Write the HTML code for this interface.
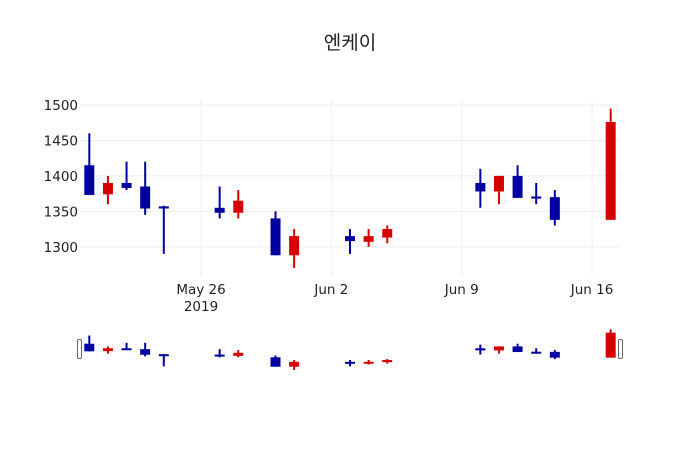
<!DOCTYPE html>
<html><head><meta charset="utf-8"><style>
body{margin:0;background:#fff;}
svg text{font-family:"DejaVu Sans","Noto Sans CJK KR",sans-serif;}
</style></head><body>
<svg id="chart" width="700" height="450" xmlns="http://www.w3.org/2000/svg">
<rect width="700" height="450" fill="#fff"/>
<text x="350" y="49" text-anchor="middle" font-size="19" fill="#222" style="font-family:'Noto Sans CJK KR',sans-serif">엔케이</text>
<g id="grid"></g><g id="candles"></g><g id="slider"></g><g id="axes"></g>
</svg>
<script>
const dates=["2019-05-20","2019-05-21","2019-05-22","2019-05-23","2019-05-24","2019-05-27","2019-05-28","2019-05-30","2019-05-31","2019-06-03","2019-06-04","2019-06-05","2019-06-10","2019-06-11","2019-06-12","2019-06-13","2019-06-14","2019-06-17"];
const openV=[1415,1374,1390,1385,1357,1355,1348,1340,1288,1315,1307,1313,1390,1378,1400,1371,1370,1338];
const highV=[1460,1400,1420,1420,1358,1385,1380,1350,1325,1325,1325,1330,1410,1400,1415,1390,1380,1495];
const lowV=[1373,1360,1380,1345,1290,1340,1340,1288,1270,1290,1300,1305,1355,1360,1369,1360,1330,1338];
const closeV=[1373,1390,1383,1354,1354,1348,1365,1288,1315,1308,1315,1325,1378,1400,1369,1368,1338,1476];
const yTicks=[1300,1350,1400,1450,1500];
const xTickDates=["2019-05-26","2019-06-02","2019-06-09","2019-06-16"];
const xTickLabels=["May 26","Jun 2","Jun 9","Jun 16"];

const NS="http://www.w3.org/2000/svg";
const t0=Date.parse("2019-05-19T12:00:00Z"), t1=Date.parse("2019-06-17T12:00:00Z");
const X0=80,X1=620;
const x=d=>X0+(Date.parse(d+"T00:00:00Z")-t0)/(t1-t0)*(X1-X0);
const lo=Math.min(...lowV),hi=Math.max(...highV),pad=(hi-lo)*0.05;
const yMin=lo-pad,yMax=hi+pad;
const y=v=>100.6+(yMax-v)/(yMax-yMin)*(276-100.6);
const ys=v=>327.2+(yMax-v)/(yMax-yMin)*(372-327.2);
function mk(tag,attrs,parent){const e=document.createElementNS(NS,tag);for(const k in attrs)e.setAttribute(k,attrs[k]);parent.appendChild(e);return e;}
const grid=document.getElementById('grid'),axes=document.getElementById('axes'),cg=document.getElementById('candles'),sl=document.getElementById('slider');
yTicks.forEach(v=>{
 const l=mk('line',{x1:X0,x2:X1,y1:y(v),y2:y(v),stroke:'#eee','stroke-width':1},grid);
 
 
 const t=mk('text',{x:X0-2,y:y(v)+5,'text-anchor':'end','font-size':13.5,fill:'#222'},axes);
 t.textContent=v;
 
 
});
xTickDates.forEach((d,i)=>{
 const l=mk('line',{x1:x(d),x2:x(d),y1:100,y2:276,stroke:'#eee','stroke-width':1},grid);
 
 
 const t=mk('text',{x:x(d),y:294,'text-anchor':'middle','font-size':13.5,fill:'#222'},axes);
 t.textContent=xTickLabels[i];
 
 
});
const yr=mk('text',{x:x(xTickDates[0]),y:311,'text-anchor':'middle','font-size':13.5,fill:'#222'},axes);
yr.textContent="2019";


function candle(i,parent,yf,bw,sw,name){
 const up=closeV[i]>=openV[i],col=up?'#d50000':'#0000a0',cx=x(dates[i]);
 const g=mk('g',{},parent);
 
 
 mk('line',{x1:cx,x2:cx,y1:yf(highV[i]),y2:yf(lowV[i]),stroke:col,'stroke-width':sw},g);
 const top=yf(Math.max(openV[i],closeV[i])),bot=yf(Math.min(openV[i],closeV[i]));
 mk('rect',{x:cx-bw/2,y:top,width:bw,height:Math.max(bot-top,2),fill:col},g);
}
dates.forEach((d,i)=>candle(i,cg,y,10,2,'candle'));
dates.forEach((d,i)=>candle(i,sl,ys,10,2,'slider-candle'));
const h1=mk('rect',{x:77.5,y:339.5,width:4,height:19,rx:1.5,fill:'#fff',stroke:'#666','stroke-width':1},sl);


const h2=mk('rect',{x:618.5,y:339.5,width:4,height:19,rx:1.5,fill:'#fff',stroke:'#666','stroke-width':1},sl);


</script>
</body></html>
